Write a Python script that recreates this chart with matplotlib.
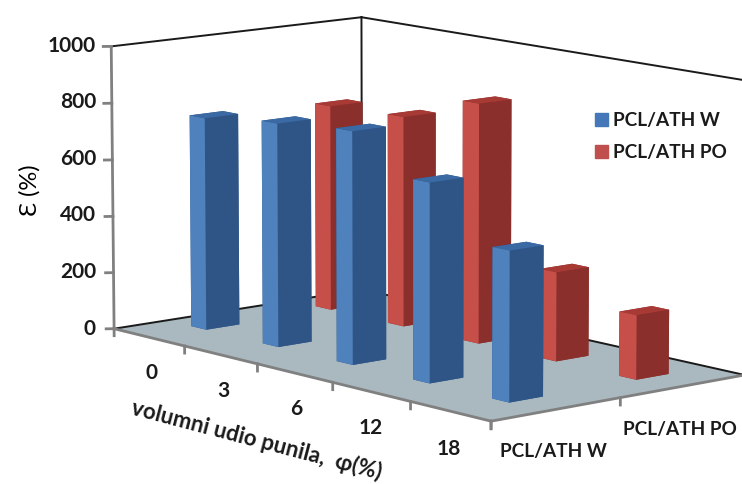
import matplotlib
matplotlib.use("Agg")
import matplotlib.pyplot as plt
from matplotlib.patches import Patch
from mpl_toolkits.mplot3d.art3d import Poly3DCollection
import numpy as np

plt.rcParams["font.family"] = ["Lato", "DejaVu Sans"]

fillers = ["0", "3", "6", "12", "18"]
series = ["PCL/ATH W", "PCL/ATH PO"]
eps_w = [750, 780, 803, 680, 507]
eps_po = [735, 745, 840, 308, 220]
z_ticks = [0, 200, 400, 600, 800, 1000]

W, H = 742, 484
fig = plt.figure(figsize=(W / 100, H / 100), dpi=100)
ax = fig.add_axes([56 / W, -90.6 / H, 714 / W, 714 / H], projection="3d")
ax.set_proj_type("persp", focal_length=1.4)
ax.view_init(elev=9.96, azim=-40.4)
ax.set_box_aspect((583, 328, 290))
ax.set_axis_off()
ax.computed_zorder = False

nx, ny = len(fillers), len(series)
ax.set_xlim(0, nx, view_margin=0)
ax.set_ylim(0, ny, view_margin=0)
ax.set_zlim(0, 1000, view_margin=0)

# floor
floor = Poly3DCollection([[(0, 0, 0), (nx, 0, 0), (nx, ny, 0), (0, ny, 0)]],
                         facecolor="#A9B9BF", edgecolor="none", zorder=1)
ax.add_collection3d(floor)

# walls, only the outlines
wall = dict(color="#1a1a1a", lw=1.4, zorder=2)
ax.plot([0, 0], [0, ny], [0, 0], **wall)
ax.plot([0, nx], [ny, ny], [0, 0], **wall)
ax.plot([0, 0], [0, ny], [1000, 1000], **wall)
ax.plot([0, nx], [ny, ny], [1000, 1000], **wall)
ax.plot([0, 0], [ny, ny], [0, 1000], **wall)

# bars
bar_x, bar_y, bar_h, face_cols = [], [], [], []
blue = ["#2F5587", "#3A69A3", "#4F81BD", "#2F5587", "#2F5587", "#2F5587"]
red = ["#8B2F2C", "#A83A36", "#C64F4A", "#8B2F2C", "#8B2F2C", "#8B2F2C"]
for j, vals in enumerate([eps_w, eps_po]):
    for i, v in enumerate(vals):
        bar_x.append(i + 0.345)
        bar_y.append(j + 0.415)
        bar_h.append(v)
        face_cols += blue if j == 0 else red
ax.bar3d(bar_x, bar_y, np.zeros(len(bar_x)), 0.212, 0.262, bar_h,
         color=face_cols, shade=False, zorder=3, edgecolor="none", linewidth=0)

# front axes and ticks
gray = dict(color="#808080", lw=2, zorder=4)
ax.plot([0, 0], [0, 0], [0, 1000], **gray)
ax.plot([0, nx], [0, 0], [0, 0], **gray)
ax.plot([nx, nx], [0, ny], [0, 0], **gray)
for z in z_ticks:
    ax.plot([0, -0.04], [0, -0.04], [z, z], **gray)
for i in range(nx + 1):
    ax.plot([i, i], [0, 0], [0, -25], **gray)
for j in range(ny + 1):
    ax.plot([nx, nx], [j, j], [0, -25], **gray)


def label(x, y, s, **kw):
    kw.setdefault("fontsize", 15)
    kw.setdefault("fontweight", "bold")
    kw.setdefault("color", "#1a1a1a")
    kw.setdefault("ha", "center")
    kw.setdefault("va", "center")
    fig.text(x / W, 1 - y / H, s, **kw)


for z, y in zip(z_ticks, [329, 272, 215, 159, 102, 46]):
    label(96, y, str(z), ha="right")
for s, x, y in zip(fillers, [151, 223, 296, 371, 449], [373, 391, 409, 428, 449]):
    label(x, y, s)
label(553, 452, series[0], fontsize=13.7)
label(680, 430, series[1], fontsize=13.7)
label(257, 440, "volumni udio punila,  φ(%)", rotation=-14.7, fontsize=16,
      rotation_mode="anchor")
label(30, 190, "Ɛ (%)", rotation=90, fontsize=17, fontweight="normal", color="black")

handles = [Patch(color="#4478B8"), Patch(color="#C0504D")]
fig.legend(handles, series, loc="upper left", bbox_to_anchor=(595 / W, 1 - 112 / H),
           frameon=False, prop=dict(size=13.7, weight="bold"), handlelength=0.68,
           handleheight=0.68, handletextpad=0.26, labelspacing=0.8, labelcolor="#1a1a1a",
           borderpad=0, borderaxespad=0)

fig.savefig("out.png", dpi=100)
